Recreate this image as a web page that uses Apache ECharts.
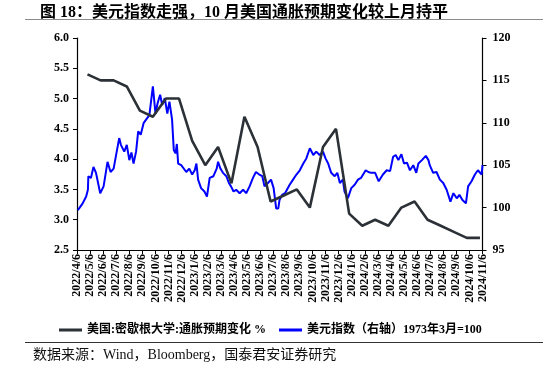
<!DOCTYPE html>
<html>
<head>
<meta charset="utf-8">
<script src="https://cdn.jsdelivr.net/npm/echarts@6/dist/echarts.min.js"></script>
<style>
html,body{margin:0;padding:0;background:#fff;}
#c{width:543px;height:372px;}
</style>
</head>
<body>
<div id="c"></div>
<script>
// ---- tick labels (x axis, monthly) ----
const tickLabels = ['2022/4/6','2022/5/6','2022/6/6','2022/7/6','2022/8/6','2022/9/6','2022/10/6','2022/11/6','2022/12/6',
  '2023/1/6','2023/2/6','2023/3/6','2023/4/6','2023/5/6','2023/6/6','2023/7/6','2023/8/6','2023/9/6','2023/10/6','2023/11/6','2023/12/6',
  '2024/1/6','2024/2/6','2024/3/6','2024/4/6','2024/5/6','2024/6/6','2024/7/6','2024/8/6','2024/9/6','2024/10/6','2024/11/6'];

// ---- University of Michigan inflation expectation (left axis, %) ----
const michDates = ['2022/4/30','2022/5/31','2022/6/30','2022/7/31','2022/8/31','2022/9/30','2022/10/31','2022/11/30','2022/12/31',
  '2023/1/31','2023/2/28','2023/3/31','2023/4/30','2023/5/31','2023/6/30','2023/7/31','2023/8/31','2023/9/30','2023/10/31','2023/11/30','2023/12/31',
  '2024/1/31','2024/2/29','2024/3/31','2024/4/30','2024/5/31','2024/6/30','2024/7/31','2024/8/31','2024/9/30','2024/10/31'];
const michValues = [5.4,5.3,5.3,5.2,4.8,4.7,5.0,5.0,4.3,
  3.9,4.2,3.6,4.7,4.2,3.3,3.4,3.5,3.2,4.2,4.5,3.1,
  2.9,3.0,2.9,3.2,3.3,3.0,2.9,2.8,2.7,2.7];

// ---- US dollar index (right axis) ----
const dxyDates = ['2022/4/8','2022/4/19','2022/4/27','2022/5/1','2022/5/2','2022/5/8','2022/5/14','2022/5/20','2022/5/30',
  '2022/6/7','2022/6/16','2022/6/23','2022/6/30','2022/7/13','2022/7/17','2022/7/25','2022/7/31','2022/8/6','2022/8/11',
  '2022/8/16','2022/8/22','2022/8/27','2022/9/2','2022/9/9','2022/9/22','2022/9/30','2022/10/6','2022/10/11','2022/10/17',
  '2022/10/22','2022/10/28','2022/11/3','2022/11/8','2022/11/14','2022/11/18','2022/11/22','2022/11/25','2022/11/28','2022/12/5',
  '2022/12/17','2022/12/24','2022/12/31','2023/1/6','2023/1/10','2023/1/14','2023/1/21','2023/1/29','2023/2/4','2023/2/10',
  '2023/2/18','2023/2/25','2023/2/28','2023/3/5','2023/3/11','2023/3/19','2023/3/25','2023/3/30','2023/4/5','2023/4/11',
  '2023/4/19','2023/4/27','2023/5/4','2023/5/12','2023/5/20','2023/5/27','2023/6/4','2023/6/11','2023/6/16','2023/6/24',
  '2023/7/1','2023/7/7','2023/7/13','2023/7/18','2023/7/21','2023/7/27','2023/8/3','2023/8/14','2023/8/22','2023/8/30',
  '2023/9/7','2023/9/15','2023/9/22','2023/9/30','2023/10/8','2023/10/15','2023/10/23','2023/10/31','2023/11/6','2023/11/12',
  '2023/11/19','2023/11/27','2023/12/3','2023/12/9','2023/12/16','2023/12/20','2023/12/28','2024/1/5','2024/1/13','2024/1/21',
  '2024/1/28','2024/2/8','2024/2/14','2024/2/20','2024/2/29','2024/3/8','2024/3/18','2024/3/27','2024/4/4','2024/4/11',
  '2024/4/17','2024/4/23','2024/4/30','2024/5/6','2024/5/13','2024/5/20','2024/5/28','2024/6/4','2024/6/9','2024/6/17',
  '2024/6/26','2024/7/2','2024/7/5','2024/7/13','2024/7/21','2024/7/29','2024/8/6','2024/8/14','2024/8/23','2024/8/30',
  '2024/9/7','2024/9/13','2024/9/20','2024/9/28','2024/10/3','2024/10/11','2024/10/19','2024/10/26','2024/11/4','2024/11/6'];
const dxyValues = [99.7,100.5,101.3,102.1,103.7,103.5,104.8,104.1,101.7,
  102.5,105.4,104.2,104.6,108.2,107.4,106.6,107.4,105.6,106.5,
  105.2,106.6,109.0,108.6,110.0,110.9,114.3,111.1,112.3,113.3,
  112.1,112.9,111.1,112.5,110.4,106.8,106.4,107.5,105.2,105.0,
  104.2,104.6,103.9,104.4,105.2,103.3,102.3,101.9,101.3,103.5,
  103.7,104.6,105.4,104.6,104.1,103.7,102.9,102.5,101.9,102.1,
  101.7,102.1,101.7,102.5,103.5,104.2,103.9,103.7,102.5,102.9,
  103.3,102.3,99.9,99.9,100.9,101.5,101.7,102.7,103.3,103.9,
  104.4,105.2,105.8,107.0,106.2,106.6,106.2,106.6,105.8,105.2,
  104.1,103.7,104.1,102.9,103.3,101.9,101.1,102.3,102.7,103.3,
  103.5,104.4,104.2,104.1,104.1,103.1,103.9,104.4,104.3,106.0,
  106.2,105.6,106.3,105.2,105.3,104.4,105.0,104.1,105.2,105.6,
  106.1,105.6,105.0,104.1,104.2,103.3,102.9,102.1,100.7,101.7,
  101.1,101.5,100.9,100.5,102.5,103.1,103.9,104.4,103.9,105.0];

// date string -> position on the monthly tick scale
function ts(s){const p=s.split('/').map(Number);return Date.UTC(p[0],p[1]-1,p[2]);}
const tickTs = tickLabels.map(ts);
function toIdx(s){
  const t = ts(s);
  for(let k=0;k<tickTs.length-1;k++){
    if(t>=tickTs[k] && t<=tickTs[k+1]) return k+(t-tickTs[k])/(tickTs[k+1]-tickTs[k]);
  }
  return t<tickTs[0]?0:tickTs.length-1;
}
const michData = michDates.map((d,i)=>[toIdx(d),michValues[i]]);
const dxyData = dxyDates.map((d,i)=>[toIdx(d),dxyValues[i]]);

const serif = "'Liberation Serif','Times New Roman','Noto Sans CJK SC',serif";
const chart = echarts.init(document.getElementById('c'),null,{renderer:'canvas'});
chart.setOption({
  animation:false,
  backgroundColor:'#fff',
  title:{
    text:'图 18：美元指数走强，10 月美国通胀预期变化较上月持平',
    left:35, top:0,
    textStyle:{fontSize:16,fontWeight:'bold',color:'#000',fontFamily:serif}
  },
  graphic:[
    {type:'line',shape:{x1:25,y1:19.5,x2:543,y2:19.5},style:{stroke:'#8c8c8c',lineWidth:1.2},silent:true},
    {type:'line',shape:{x1:25,y1:342.5,x2:543,y2:342.5},style:{stroke:'#333',lineWidth:1},silent:true},
    {type:'text',left:33,top:348,style:{text:'数据来源：Wind，Bloomberg，国泰君安证券研究',fontSize:14,fontFamily:serif,fill:'#111'},silent:true}
  ],
  legend:{
    left:54, top:319,
    itemWidth:23, itemHeight:3, itemGap:13,
    icon:'rect',
    data:['美国:密歇根大学:通胀预期变化 %','美元指数（右轴）1973年3月=100'],
    textStyle:{fontSize:12,fontWeight:'bold',color:'#000',fontFamily:serif}
  },
  grid:{left:77,right:60.5,top:38,bottom:122,containLabel:false},
  xAxis:{
    type:'value',min:0,max:tickLabels.length-1,interval:1,
    axisLine:{show:true,lineStyle:{color:'#000',width:1.2}},
    axisTick:{show:true,length:4,lineStyle:{color:'#000'}},
    splitLine:{show:false},
    axisLabel:{rotate:90,margin:4,fontSize:12,fontWeight:'bold',color:'#000',fontFamily:serif,
      formatter:v=>tickLabels[Math.round(v)]||''}
  },
  yAxis:[
    {type:'value',min:2.5,max:6,interval:0.5,position:'left',
     axisLine:{show:true,lineStyle:{color:'#000',width:1.2}},
     axisTick:{show:true,length:4,lineStyle:{color:'#000'}},
     splitLine:{show:false},
     axisLabel:{margin:8,fontSize:12,fontWeight:'bold',color:'#000',fontFamily:serif,formatter:v=>v.toFixed(1)}},
    {type:'value',min:95,max:120,interval:5,position:'right',
     axisLine:{show:true,lineStyle:{color:'#000',width:1.2}},
     axisTick:{show:true,length:4,lineStyle:{color:'#000'}},
     splitLine:{show:false},
     axisLabel:{margin:10,fontSize:12,fontWeight:'bold',color:'#000',fontFamily:serif}}
  ],
  series:[
    {name:'美元指数（右轴）1973年3月=100',type:'line',yAxisIndex:1,data:dxyData,
     showSymbol:false,symbol:'none',lineStyle:{color:'#0000ff',width:2},itemStyle:{color:'#0000ff'},z:2},
    {name:'美国:密歇根大学:通胀预期变化 %',type:'line',yAxisIndex:0,data:michData,
     showSymbol:false,symbol:'none',lineStyle:{color:'#2b3137',width:2.6},itemStyle:{color:'#2b3137'},z:3}
  ]
});
</script>
</body>
</html>
